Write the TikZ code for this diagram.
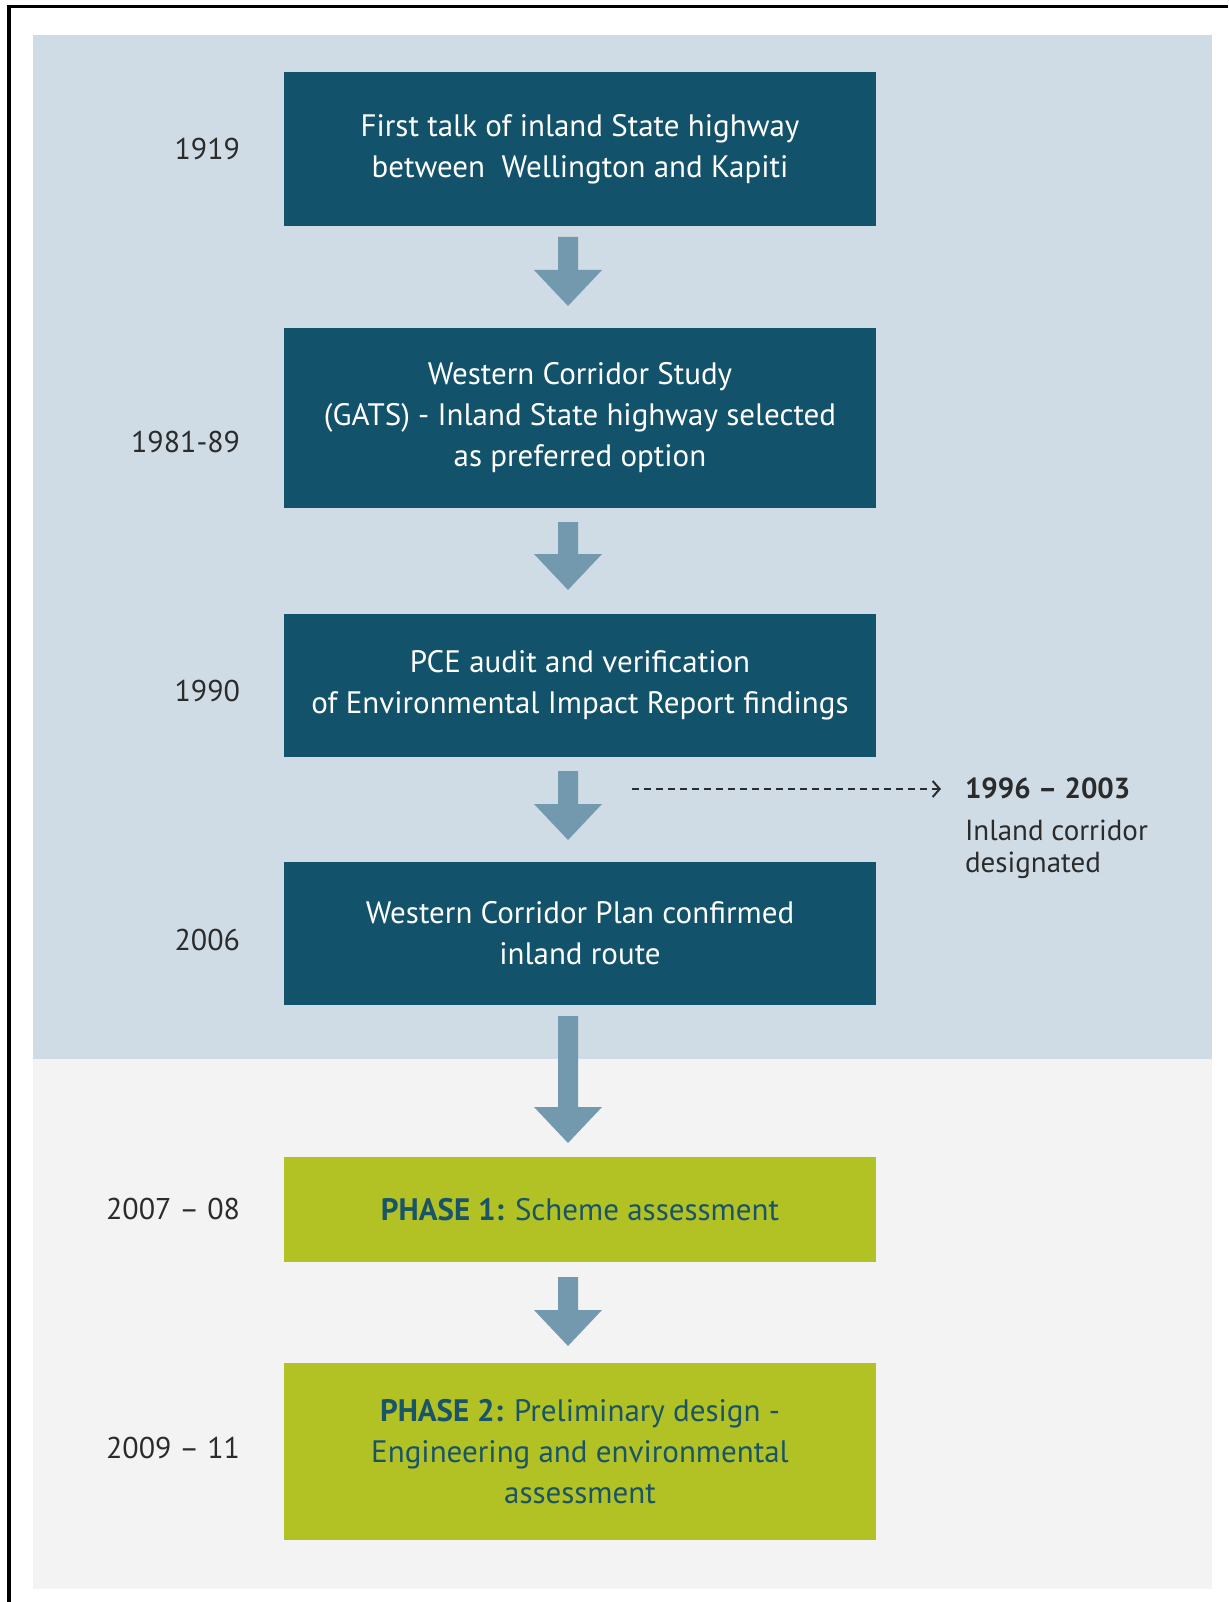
\documentclass[tikz,border=0pt]{standalone}
\usepackage{fontspec}
\setmainfont{PT Sans}
\usetikzlibrary{arrows.meta}
\definecolor{panelblue}{HTML}{CFDCE5}
\definecolor{panelgray}{HTML}{F3F3F3}
\definecolor{boxteal}{HTML}{12526A}
\definecolor{arrowcol}{HTML}{7399AF}
\definecolor{phasegreen}{HTML}{B2C123}
\definecolor{phasetext}{HTML}{1A5468}
\definecolor{yeartext}{HTML}{2B2B2B}
\newcommand\blockarrow[2]{%
  \fill[arrowcol] (558,#1) -- (578,#1) -- (578,{#2-36}) -- (602,{#2-36})
    -- (568,#2) -- (534,{#2-36}) -- (558,{#2-36}) -- cycle;}
\begin{document}
\begin{tikzpicture}[x=1pt,y=-1pt,
  every node/.style={inner sep=0pt, outer sep=0pt},
  tealbox/.style={fill=boxteal, text=white, minimum width=592pt, align=center,
    font=\fontsize{31}{41}\selectfont},
  greenbox/.style={fill=phasegreen, text=phasetext, minimum width=592pt, align=center,
    font=\fontsize{31}{41}\selectfont},
  year/.style={anchor=east, text=yeartext, font=\fontsize{30}{34}\selectfont},
  side/.style={anchor=west, text=yeartext, font=\fontsize{29}{34}\selectfont}]
\useasboundingbox (0,0) rectangle (1228,1602);
\fill[white] (0,0) rectangle (1228,1602);
% panels
\fill[panelblue] (33,35) rectangle (1212,1059);
\fill[panelgray] (33,1059) rectangle (1212,1589);
% frame (top and left)
\fill[black] (7,5) rectangle (1228,8.5);
\fill[black] (7,5) rectangle (10.5,1602);
% boxes
\node[tealbox, minimum height=154pt] (b1) at (580,149)
  {First talk of inland State highway\\between\ \ Wellington and Kapiti};
\node[tealbox, minimum height=180pt] (b2) at (580,418)
  {Western Corridor Study\\(GATS) - Inland State highway selected\\as preferred option};
\node[tealbox, minimum height=143pt] (b3) at (580,685.5)
  {PCE audit and verification\\of Environmental Impact Report findings};
\node[tealbox, minimum height=143pt] (b4) at (580,933.5)
  {Western Corridor Plan confirmed\\inland route};
\node[greenbox, minimum height=105pt] (g1) at (580,1209.5)
  {\textbf{PHASE 1:} Scheme assessment};
\node[greenbox, minimum height=177pt] (g2) at (580,1451.5)
  {\textbf{PHASE 2:} Preliminary design -\\Engineering and environmental\\assessment};
% years
\node[year] (y1) at (240,149) {1919};
\node[year] (y2) at (240,442) {1981-89};
\node[year] (y3) at (240,691) {1990};
\node[year] (y4) at (240,940) {2006};
\node[year] (y5) at (240,1209) {2007 – 08};
\node[year] (y6) at (240,1448) {2009 – 11};
% block arrows
\blockarrow{237}{306}
\blockarrow{522}{590}
\blockarrow{771}{840}
\blockarrow{1016}{1143}
\blockarrow{1277}{1346}
% side note
\node[side, font=\fontsize{29}{34}\selectfont\bfseries] (s1) at (965,788) {1996 – 2003};
\node[side] (s2) at (965,830) {Inland corridor};
\node[side] (s3) at (965,865) {designated};
\coordinate (dstart) at (632,789);
\coordinate (dend) at (941,789);
\draw[yeartext, line width=1.8pt, dash pattern=on 7pt off 5pt,
  -{Straight Barb[length=7pt,width=16pt,line width=2pt]}] (dstart) -- (dend);
\end{tikzpicture}
\end{document}
